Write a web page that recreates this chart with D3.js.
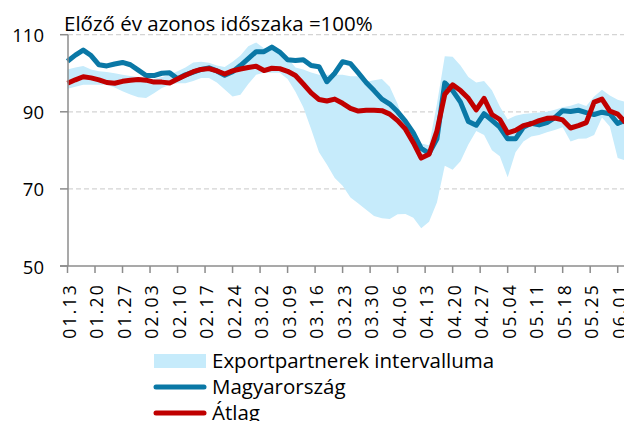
<!DOCTYPE html>
<html>
<head>
<meta charset="utf-8">
<script src="https://cdn.jsdelivr.net/npm/d3@7"></script>
<style>
  body { margin: 0; background: #fff; }
  svg { display: block; font-family: "Open Sans", "Noto Sans", sans-serif; }
  .grid line { stroke: #d4d4d4; stroke-width: 1.3; stroke-dasharray: 5 3; }
  .axis-line { stroke: #8c8c8c; stroke-width: 1.5; fill: none; }
  .ylab { font-size: 18.5px; fill: #000; }
  .xlab { font-size: 17.5px; fill: #000; letter-spacing: 2.2px; }
  .legend text { font-size: 20.5px; fill: #000; }
</style>
</head>
<body>
<div id="chart"></div>
<script>
// napi adatok, kétnaponta leolvasva
const dates = ["01.13","01.15","01.17","01.19","01.21","01.23","01.25","01.27","01.29","01.31",
  "02.02","02.04","02.06","02.08","02.10","02.12","02.14","02.16","02.18","02.20",
  "02.22","02.24","02.26","02.28","03.01","03.03","03.05","03.07","03.09","03.11",
  "03.13","03.15","03.17","03.19","03.21","03.23","03.25","03.27","03.29","03.31",
  "04.02","04.04","04.06","04.08","04.10","04.12","04.14","04.16","04.18","04.20",
  "04.22","04.24","04.26","04.28","04.30","05.02","05.04","05.06","05.08","05.10",
  "05.12","05.14","05.16","05.18","05.20","05.22","05.24","05.26","05.28","05.30",
  "06.01","06.03"]

const magyarorszag = [103.1,104.7,106.0,104.6,102.2,101.9,102.4,102.8,102.2,100.8,
  99.4,99.4,100.0,100.1,98.6,99.6,100.3,101.0,101.4,100.6,
  99.5,100.4,102.0,103.8,105.6,105.6,106.8,105.5,103.5,103.3,
  103.5,102.0,101.7,97.8,100.0,103.0,102.5,100.1,97.6,95.5,
  93.3,92.0,90.0,87.5,84.5,80.5,79.2,83.0,97.5,95.5,
  92.5,87.5,86.5,89.5,87.8,86.0,83.0,83.0,86.0,87.0,
  86.6,87.2,88.5,90.3,90.1,90.4,89.8,89.3,89.9,89.5,
  87.0,87.8]

const atlag = [97.4,98.3,99.1,98.8,98.3,97.6,97.4,97.9,98.2,98.4,
  98.2,97.7,97.7,97.5,98.5,99.5,100.4,101.0,101.2,100.6,
  99.8,100.6,101.1,101.5,101.8,100.7,101.3,101.2,100.5,99.4,
  97.2,94.9,93.2,92.8,93.3,92.2,90.9,90.2,90.4,90.4,
  90.3,89.4,87.7,85.5,82.0,78.0,79.0,85.0,94.5,97.0,
  95.5,93.5,90.5,93.5,89.3,88.0,84.5,85.2,86.4,86.9,
  87.7,88.3,88.4,87.9,85.8,86.4,87.2,92.5,93.3,90.2,
  89.4,87.2]

const intervallumFelso = [101.0,101.5,101.9,101.0,100.5,100.3,100.0,99.6,99.3,99.0,
  98.8,98.5,99.0,99.6,100.5,101.5,102.8,103.0,102.7,102.0,
  101.6,103.0,104.6,107.0,108.0,106.5,106.0,105.3,104.0,101.5,
  101.0,100.2,99.6,99.6,99.6,99.6,99.2,99.2,97.8,98.2,
  98.5,96.5,92.0,86.0,83.0,81.8,81.3,92.0,104.4,104.3,
  102.0,99.0,97.6,98.0,95.6,91.4,88.0,89.0,89.4,89.6,
  89.8,90.0,90.5,91.2,91.6,92.2,91.5,94.0,95.7,94.2,
  93.1,92.6]

const intervallumAlso = [96.0,96.5,97.0,97.0,97.0,97.0,96.3,95.3,94.5,93.8,
  93.6,94.8,96.2,97.0,97.4,97.4,98.0,98.8,98.8,97.6,
  95.8,94.0,94.4,97.2,99.6,100.1,100.1,100.1,98.5,95.2,
  91.2,85.5,79.5,76.3,72.8,70.8,67.8,66.2,64.6,63.0,
  62.4,62.2,63.4,63.5,62.5,59.8,61.5,66.5,76.0,75.0,
  77.2,81.5,85.0,84.0,80.0,78.5,73.0,79.5,82.3,83.6,
  84.0,84.7,85.3,86.0,82.3,83.0,83.1,84.0,88.5,86.2,
  78.0,77.4]

const tickLabels = ["01.13","01.20","01.27","02.03","02.10","02.17","02.24","03.02","03.09","03.16",
  "03.23","03.30","04.06","04.13","04.20","04.27","05.04","05.11","05.18","05.25","06.01"]
const yTicks = [50, 70, 90, 110]

const width = 624
const height = 421
const margin = {top: 34.7, left: 68, bottom: 155}

const parseDate = d3.timeParse("%Y.%m.%d")
const toDate = s => parseDate("2020." + s)

const rows = dates.map((d, i) => ({
  date: toDate(d),
  hu: magyarorszag[i],
  avg: atlag[i],
  hi: intervallumFelso[i],
  lo: intervallumAlso[i]
}))

const xScale = d3.scaleTime()
  .domain([toDate("01.13"), toDate("06.01")])
  .range([67.5, 67.5 + 140 * 3.93])

const yScale = d3.scaleLinear()
  .domain([50, 110])
  .range([266, margin.top])

const svg = d3.select("#chart").append("svg")
  .attr("width", width)
  .attr("height", height)

// cím
svg.append("text")
  .attr("x", 64)
  .attr("y", 30.5)
  .style("font-size", "20.5px")
  .text("Előző év azonos időszaka =100%")

// rácsvonalak
svg.append("g").attr("class", "grid")
  .selectAll("line")
  .data(yTicks.filter(d => d > 50))
  .enter().append("line")
  .attr("x1", 68)
  .attr("x2", width)
  .attr("y1", d => yScale(d))
  .attr("y2", d => yScale(d))

// sáv
const area = d3.area()
  .x(d => xScale(d.date))
  .y0(d => yScale(d.lo))
  .y1(d => yScale(d.hi))

svg.append("path")
  .datum(rows)
  .attr("fill", "#c6ebfb")
  .attr("d", area)

const lineHu = d3.line().x(d => xScale(d.date)).y(d => yScale(d.hu))
const lineAvg = d3.line().x(d => xScale(d.date)).y(d => yScale(d.avg))

svg.append("path")
  .datum(rows)
  .attr("fill", "none")
  .attr("stroke", "#0a78a6")
  .attr("stroke-width", 5)
  .attr("stroke-linejoin", "round")
  .attr("d", lineHu)

svg.append("path")
  .datum(rows)
  .attr("fill", "none")
  .attr("stroke", "#c00000")
  .attr("stroke-width", 5)
  .attr("stroke-linejoin", "round")
  .attr("d", lineAvg)

// tengelyek
svg.append("line").attr("class", "axis-line")
  .attr("x1", 68).attr("x2", 68)
  .attr("y1", yScale(110)).attr("y2", yScale(50))

svg.append("line").attr("class", "axis-line")
  .attr("x1", 60).attr("x2", width)
  .attr("y1", yScale(50)).attr("y2", yScale(50))

svg.selectAll(".ytick")
  .data(yTicks)
  .enter().append("line")
  .attr("class", "axis-line ytick")
  .attr("x1", 60).attr("x2", 68)
  .attr("y1", d => yScale(d)).attr("y2", d => yScale(d))

svg.selectAll(".ylab")
  .data(yTicks)
  .enter().append("text")
  .attr("class", "ylab")
  .attr("x", 44)
  .attr("y", d => yScale(d))
  .attr("text-anchor", "end")
  .attr("dominant-baseline", "central")
  .text(d => d)

svg.selectAll(".xtick")
  .data(tickLabels)
  .enter().append("line")
  .attr("class", "axis-line xtick")
  .attr("x1", d => xScale(toDate(d))).attr("x2", d => xScale(toDate(d)))
  .attr("y1", yScale(50)).attr("y2", yScale(50) + 7)

svg.selectAll(".xlab")
  .data(tickLabels)
  .enter().append("text")
  .attr("class", "xlab")
  .attr("transform", d => `translate(${xScale(toDate(d)) + 1}, 283) rotate(-90)`)
  .attr("text-anchor", "end")
  .attr("dominant-baseline", "central")
  .text(d => d)

// jelmagyarázat
const legend = svg.append("g").attr("class", "legend")
  .attr("transform", "translate(154, 361)")

legend.append("rect")
  .attr("x", 0).attr("y", -7)
  .attr("width", 52).attr("height", 14)
  .attr("fill", "#c6ebfb")

const legendLines = [
  {y: 26, color: "#0a78a6"},
  {y: 52, color: "#c00000"}
]
legend.selectAll(".legline")
  .data(legendLines)
  .enter().append("line")
  .attr("x1", 2).attr("x2", 50)
  .attr("y1", d => d.y).attr("y2", d => d.y)
  .attr("stroke", d => d.color)
  .attr("stroke-width", 5)
  .attr("stroke-linecap", "round")

legend.selectAll("text")
  .data(["Exportpartnerek intervalluma", "Magyarország", "Átlag"])
  .enter().append("text")
  .attr("x", 58)
  .attr("y", (d, i) => i * 26 + 7)
  .text(d => d)
</script>
</body>
</html>
